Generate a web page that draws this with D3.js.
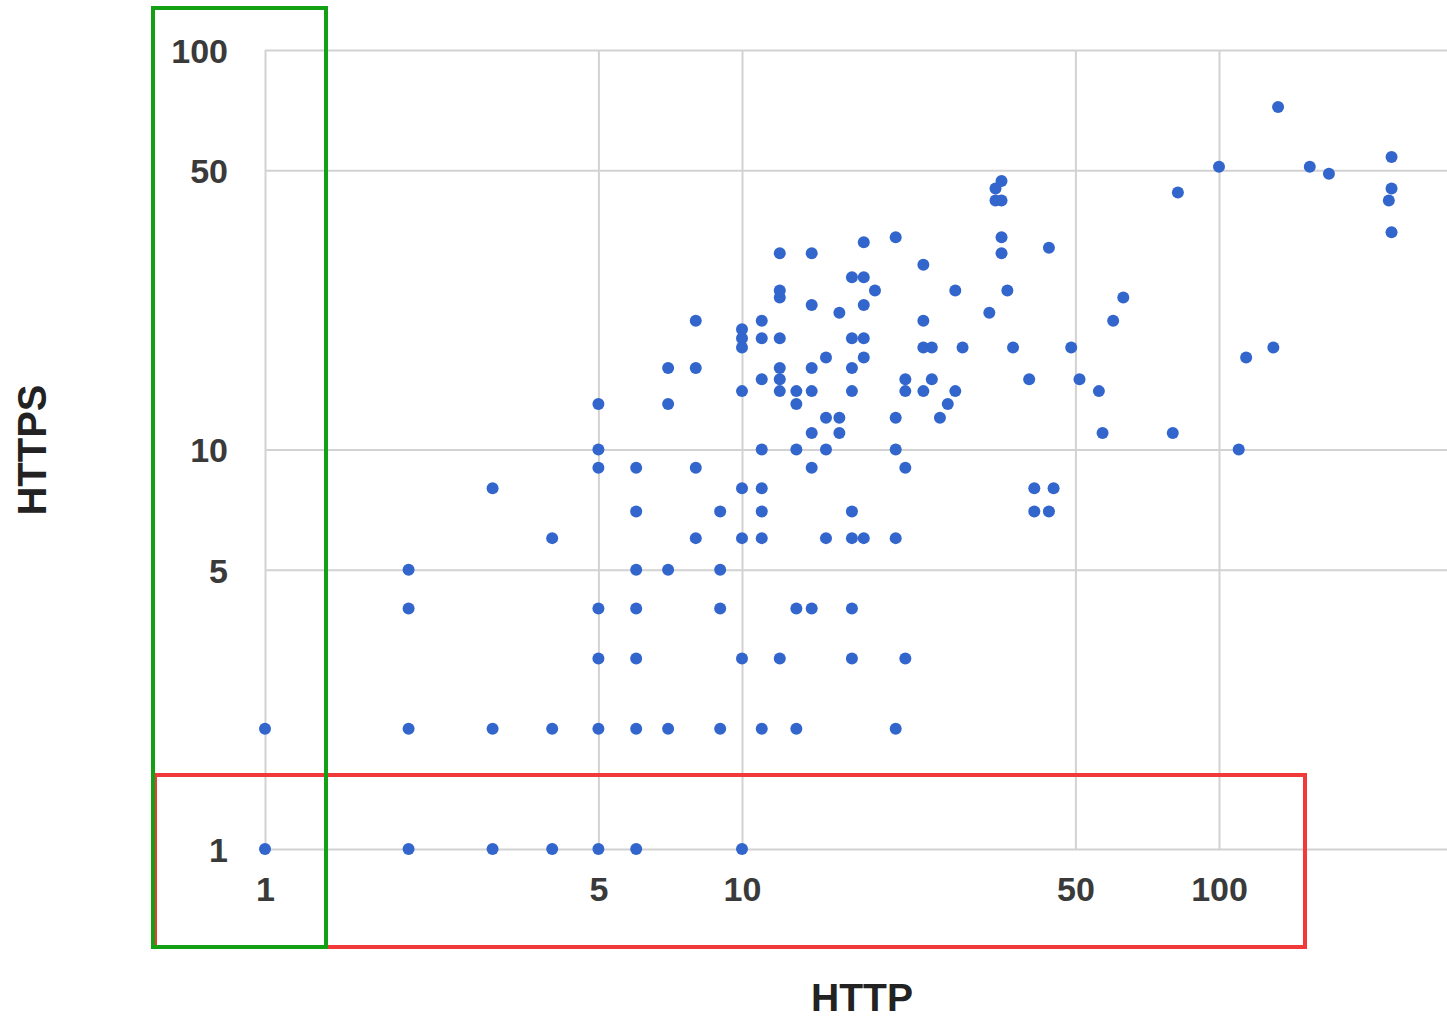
<!DOCTYPE html>
<html>
<head>
<meta charset="utf-8">
<script src="https://cdn.jsdelivr.net/npm/d3@7"></script>
<style>
  html, body { margin: 0; padding: 0; background: #fff; }
  svg { display: block; }
  .tick text { font-family: "Liberation Sans", Arial, sans-serif; font-weight: bold; font-size: 34px; fill: #3a3a3a; }
</style>
</head>
<body>
<svg id="chart" width="1447" height="1020"></svg>
<script>
// ---- data ----
const httpValues = [
  1, 2, 3, 4, 5, 6, 10,
  1, 2, 3, 4, 5, 6, 7, 9, 11, 13, 21,
  5, 6, 10, 12, 17, 22,
  2, 5, 6, 9, 13, 14, 17,
  2, 6, 7, 9,
  4, 8, 10, 11, 15, 17, 18, 21,
  6, 9, 11, 17, 41, 44,
  3, 10, 11, 41, 45,
  5, 6, 8, 14, 22,
  5, 11, 13, 15, 21, 110,
  14, 16, 57, 80,
  15, 16, 21, 26,
  5, 7, 13, 27,
  10, 12, 13, 14, 17, 22, 24, 28, 56,
  11, 12, 22, 25, 40, 51,
  7, 8, 12, 14, 17,
  15, 18, 114,
  10, 24, 25, 29, 37, 49, 130,
  10, 11, 12, 17, 18,
  10,
  8, 11, 24, 60,
  16, 33,
  14, 18,
  12, 63,
  12, 19, 28, 36,
  17, 18,
  24,
  12, 14, 35,
  44,
  18,
  21, 35,
  230,
  34, 35, 227,
  82,
  34, 230,
  35,
  170,
  100, 155,
  230,
  133
];
const httpsValues = [
  1, 1, 1, 1, 1, 1, 1,
  2, 2, 2, 2, 2, 2, 2, 2, 2, 2, 2,
  3, 3, 3, 3, 3, 3,
  4, 4, 4, 4, 4, 4, 4,
  5, 5, 5, 5,
  6, 6, 6, 6, 6, 6, 6, 6,
  7, 7, 7, 7, 7, 7,
  8, 8, 8, 8, 8,
  9, 9, 9, 9, 9,
  10, 10, 10, 10, 10, 10,
  11, 11, 11, 11,
  12, 12, 12, 12,
  13, 13, 13, 13,
  14, 14, 14, 14, 14, 14, 14, 14, 14,
  15, 15, 15, 15, 15, 15,
  16, 16, 16, 16, 16,
  17, 17, 17,
  18, 18, 18, 18, 18, 18, 18,
  19, 19, 19, 19, 19,
  20,
  21, 21, 21, 21,
  22, 22,
  23, 23,
  24, 24,
  25, 25, 25, 25,
  27, 27,
  29,
  31, 31, 31,
  32,
  33,
  34, 34,
  35,
  42, 42, 42,
  44,
  45, 45,
  47,
  49,
  51, 51,
  54,
  72
];
const xTickValues = [1, 5, 10, 50, 100];
const yTickValues = [1, 5, 10, 50, 100];
const xTitle = "HTTP";
const yTitle = "HTTPS";

// ---- layout ----
const svg = d3.select("#chart");
const plot = { left: 265, right: 1447, top: 50, bottom: 849 };

const x = d3.scaleLog().domain([1, 100]).range([265, 1219]);
const y = d3.scaleLog().domain([1, 100]).range([plot.bottom, plot.top]);

const points = httpValues.map((v, i) => ({ x: v, y: httpsValues[i] }));

// gridlines + tick labels via axes
const xAxis = d3.axisBottom(x)
  .tickValues(xTickValues)
  .tickFormat(d3.format("d"))
  .tickSize(-(plot.bottom - plot.top))
  .tickPadding(28);
const gx = svg.append("g")
  .attr("transform", `translate(0,${plot.bottom})`)
  .call(xAxis);
gx.select(".domain").remove();
gx.selectAll(".tick line").attr("stroke", "#d2d2d2").attr("stroke-width", 2);

const yAxis = d3.axisLeft(y)
  .tickValues(yTickValues)
  .tickFormat(d3.format("d"))
  .tickSize(-(plot.right - plot.left))
  .tickPadding(37);
const gy = svg.append("g")
  .attr("transform", `translate(${plot.left},0)`)
  .call(yAxis);
gy.select(".domain").remove();
gy.selectAll(".tick line").attr("stroke", "#d2d2d2").attr("stroke-width", 2);
gy.selectAll(".tick text").attr("dy", "0.36em");

// points
svg.append("g")
  .selectAll("circle")
  .data(points)
  .join("circle")
  .attr("cx", d => x(d.x))
  .attr("cy", d => y(d.y))
  .attr("r", 6)
  .attr("fill", "#3366cc");

// axis titles
svg.append("text")
  .attr("x", 862)
  .attr("y", 1011)
  .attr("text-anchor", "middle")
  .attr("font-family", "Liberation Sans, Arial, sans-serif")
  .attr("font-weight", "bold")
  .attr("font-size", 39)
  .attr("fill", "#222")
  .text(xTitle);

svg.append("text")
  .attr("transform", "translate(32,450) rotate(-90)")
  .attr("dy", "0.36em")
  .attr("text-anchor", "middle")
  .attr("font-family", "Liberation Sans, Arial, sans-serif")
  .attr("font-weight", "bold")
  .attr("font-size", 40)
  .attr("fill", "#222")
  .text(yTitle);

// annotation rectangles
svg.append("rect")
  .attr("x", 155).attr("y", 775)
  .attr("width", 1150).attr("height", 172)
  .attr("fill", "none")
  .attr("stroke", "#f03a3a")
  .attr("stroke-width", 4);

svg.append("rect")
  .attr("x", 153).attr("y", 8)
  .attr("width", 173).attr("height", 939)
  .attr("fill", "none")
  .attr("stroke", "#14a014")
  .attr("stroke-width", 4);
</script>
</body>
</html>
